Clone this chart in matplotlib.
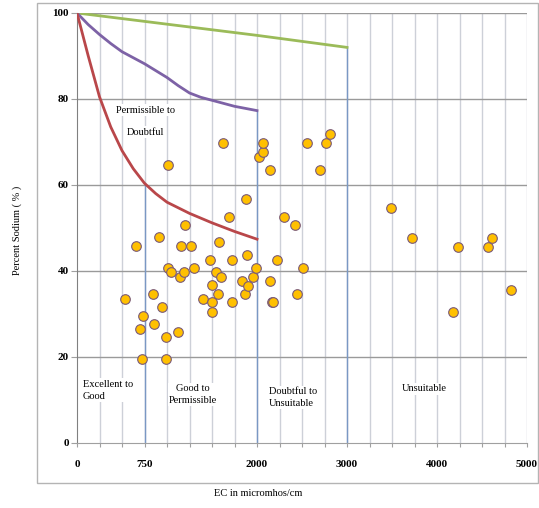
import matplotlib.pyplot as plt
from matplotlib.patches import Rectangle

# sample points: EC (micromhos/cm) and percent sodium
ec = [533, 660, 704, 722, 737, 848, 859, 915, 941, 989, 989, 1007, 1015, 1044,
      1119, 1144, 1156, 1189, 1200, 1267, 1304, 1404, 1478, 1496, 1500, 1504,
      1544, 1570, 1578, 1596, 1626, 1685, 1722, 1722, 1830, 1867, 1874, 1885,
      1904, 1952, 1987, 2022, 2070, 2070, 2144, 2144, 2170, 2181, 2222, 2300,
      2422, 2448, 2511, 2559, 2704, 2767, 2811, 3485, 3722, 4181, 4230, 4570,
      4611, 4822]
na = [33.6, 45.7, 26.6, 19.5, 29.5, 34.7, 27.6, 47.8, 31.6, 24.6, 19.5, 40.7,
      64.7, 39.7, 25.7, 38.7, 45.7, 39.7, 50.6, 45.7, 40.7, 33.6, 42.6, 32.7,
      36.7, 30.5, 39.7, 34.7, 46.7, 38.7, 69.7, 52.6, 42.6, 32.7, 37.7, 34.7,
      56.7, 43.7, 36.6, 38.7, 40.7, 66.6, 67.6, 69.7, 63.6, 37.6, 32.7, 32.7,
      42.6, 52.6, 50.6, 34.7, 40.7, 69.7, 63.6, 69.7, 71.8, 54.6, 47.7, 30.5,
      45.5, 45.5, 47.7, 35.6]

# class boundary curves
green_x = [0, 500, 1000, 1500, 2000, 2500, 3000]
green_y = [100, 98.7, 97.4, 96.1, 94.8, 93.4, 92.0]
purple_x = [0, 125, 250, 375, 500, 750, 1000, 1125, 1250, 1375, 1500, 1750, 2000]
purple_y = [100, 97.3, 95.0, 92.9, 91.0, 88.2, 85.0, 83.1, 81.4, 80.4, 79.7, 78.3, 77.3]
red_x = [0, 125, 250, 375, 500, 625, 750, 875, 1000, 1250, 1500, 1750, 2000]
red_y = [100, 90.0, 80.5, 73.5, 68.0, 63.8, 60.4, 58.0, 56.0, 53.4, 51.2, 49.2, 47.4]

# vertical class limits and their tops
limit_x = [750, 2000, 3000]
limit_top = [60.4, 77.3, 92.0]

xticks = list(range(0, 5001, 250))
xtick_labels = {0: '0', 750: '750', 2000: '2000', 3000: '3000', 4000: '4000', 5000: '5000'}
yticks = [0, 20, 40, 60, 80, 100]

plt.rcParams['font.family'] = ['Liberation Serif', 'DejaVu Serif']

fig = plt.figure(figsize=(5.39, 5.08), dpi=100)
fig.patches.append(Rectangle((37 / 539, 1 - 483 / 508), 501 / 539, 480 / 508,
                             transform=fig.transFigure, fill=False,
                             edgecolor='#b4b4b4', lw=1))
ax = fig.add_axes([77 / 539, 1 - 443 / 508, 450 / 539, 430 / 508])

ax.set_xlim(0, 5000)
ax.set_ylim(0, 100)
ax.set_xticks(xticks)
ax.set_xticklabels([xtick_labels.get(t, '') for t in xticks])
ax.set_yticks(yticks)
for lab in ax.get_xticklabels() + ax.get_yticklabels():
    lab.set_fontweight('bold')
    lab.set_fontsize(8)
ax.tick_params(axis='x', length=3, pad=9, color='#a0a0a0')
ax.tick_params(axis='y', length=4, pad=2, color='#a0a0a0')

for x in xticks[1:]:
    ax.axvline(x, color='#cdd0d8', lw=1, zorder=1)
for y in yticks[1:]:
    ax.axhline(y, color='#9a9a9a', lw=1, zorder=1)

for s in ['top', 'right']:
    ax.spines[s].set_visible(False)
ax.spines['left'].set_color('#808080')
ax.spines['bottom'].set_color('#a0a0a0')

for x, top in zip(limit_x, limit_top):
    ax.plot([x, x], [0, top], color='#7a98c4', lw=1, zorder=2)

ax.plot(green_x, green_y, color='#9bbb59', lw=2, zorder=3)
ax.plot(purple_x, purple_y, color='#7d62a6', lw=2, zorder=3)
ax.plot(red_x, red_y, color='#b9474a', lw=2, zorder=3)

ax.scatter(ec, na, s=48, color='#ffc000', edgecolors='#7a5a78', linewidths=0.8,
           zorder=4, clip_on=False)

box = dict(facecolor='white', edgecolor='none', pad=1)
ax.text(756, 77.4, 'Permissible to', ha='center', va='center', fontsize=7.5, bbox=box, zorder=5)
ax.text(756, 72.3, 'Doubtful', ha='center', va='center', fontsize=7.5, bbox=box, zorder=5)
ax.text(67, 12.3, 'Excellent to\nGood', ha='left', va='center', fontsize=7.5,
        linespacing=1.4, bbox=box, zorder=5)
ax.text(1289, 11.3, 'Good to\nPermissible', ha='center', va='center', fontsize=7.5,
        linespacing=1.4, bbox=box, zorder=5)
ax.text(2133, 10.6, 'Doubtful to\nUnsuitable', ha='left', va='center', fontsize=7.5,
        linespacing=1.4, bbox=box, zorder=5)
ax.text(3860, 12.6, 'Unsuitable', ha='center', va='center', fontsize=7.5, bbox=box, zorder=5)

fig.text(17 / 539, 1 - 230 / 508, 'Percent Sodium ( % )', rotation=90,
         ha='center', va='center', fontsize=7.5)
fig.text(258 / 539, 1 - 493 / 508, 'EC in micromhos/cm', ha='center', va='center',
         fontsize=7.5)

fig.savefig('out.png', dpi=100)
